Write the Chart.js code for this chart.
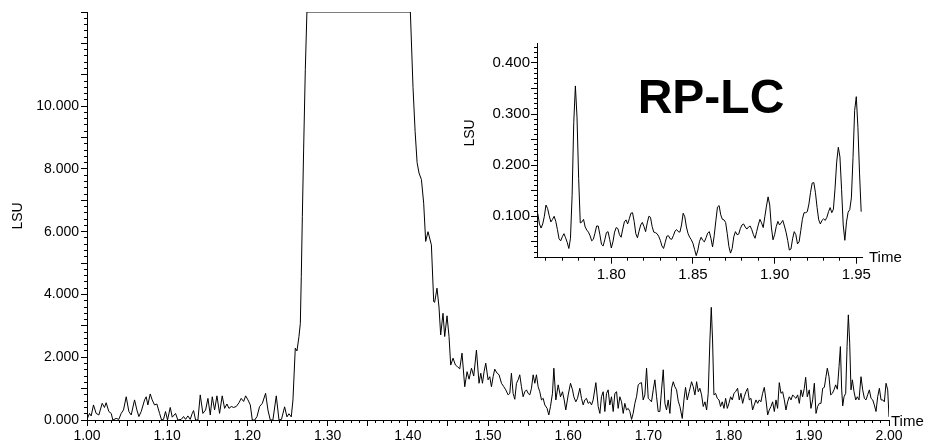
<!DOCTYPE html>
<html><head><meta charset="utf-8">
<script src="https://cdn.jsdelivr.net/npm/chart.js@4.4.1/dist/chart.umd.min.js"></script>
<style>
html,body{margin:0;padding:0;background:#fff;}
#wrap{position:relative;width:927px;height:442px;overflow:hidden;}
#main{position:absolute;left:0;top:0;width:927px;height:442px;}
#inset{position:absolute;left:455px;top:30px;width:472px;height:260px;}
</style></head><body>
<div id="wrap">
<canvas id="main" width="927" height="442"></canvas>
<canvas id="inset" width="472" height="260"></canvas>
</div>
<script>
// ---- main chromatogram (time in min, LSU) ----
const mainTime = [
1.0000,1.0031,1.0052,1.0081,1.0114,1.0148,1.0189,1.0218,1.0239,1.0272,
1.0302,1.0322,1.0364,1.0397,1.0426,1.0455,1.0489,1.0522,1.0551,1.0593,
1.0622,1.0647,1.0676,1.0718,1.0738,1.0759,1.0788,1.0813,1.0842,1.0871,
1.0905,1.0930,1.0954,1.0979,1.1004,1.1038,1.1063,1.1104,1.1133,1.1175,
1.1204,1.1229,1.1258,1.1287,1.1312,1.1329,1.1354,1.1383,1.1412,1.1445,
1.1479,1.1508,1.1537,1.1562,1.1591,1.1620,1.1653,1.1686,1.1716,1.1745,
1.1770,1.1799,1.1828,1.1861,1.1895,1.1923,1.1953,1.1978,1.2007,1.2036,
1.2061,1.2091,1.2120,1.2152,1.2186,1.2227,1.2256,1.2285,1.2318,1.2360,
1.2394,1.2425,1.2464,1.2493,1.2518,1.2547,1.2568,1.2597,1.2618,1.2643,
1.2660,1.2672,1.2685,1.2701,1.2722,1.2742,1.4032,1.4065,1.4091,1.4116,
1.4140,1.4170,1.4198,1.4223,1.4252,1.4294,1.4323,1.4335,1.4364,1.4389,
1.4410,1.4439,1.4460,1.4489,1.4514,1.4535,1.4564,1.4594,1.4619,1.4648,
1.4676,1.4710,1.4739,1.4764,1.4794,1.4822,1.4856,1.4888,1.4910,1.4931,
1.4951,1.4972,1.5001,1.5022,1.5043,1.5064,1.5084,1.5114,1.5138,1.5168,
1.5197,1.5222,1.5251,1.5272,1.5292,1.5313,1.5334,1.5355,1.5376,1.5396,
1.5417,1.5438,1.5459,1.5480,1.5500,1.5521,1.5542,1.5563,1.5584,1.5604,
1.5625,1.5646,1.5667,1.5688,1.5708,1.5737,1.5758,1.5779,1.5804,1.5821,
1.5846,1.5875,1.5904,1.5929,1.5950,1.5970,1.6000,1.6029,1.6054,1.6070,
1.6095,1.6116,1.6145,1.6166,1.6187,1.6207,1.6228,1.6249,1.6270,1.6291,
1.6311,1.6345,1.6374,1.6395,1.6415,1.6436,1.6457,1.6478,1.6498,1.6519,
1.6540,1.6561,1.6582,1.6603,1.6623,1.6644,1.6665,1.6686,1.6706,1.6727,
1.6748,1.6769,1.6790,1.6810,1.6831,1.6852,1.6873,1.6894,1.6914,1.6935,
1.6956,1.6977,1.6998,1.7018,1.7039,1.7060,1.7081,1.7102,1.7122,1.7143,
1.7164,1.7185,1.7206,1.7226,1.7247,1.7268,1.7289,1.7310,1.7330,1.7351,
1.7372,1.7393,1.7422,1.7443,1.7463,1.7484,1.7509,1.7538,1.7559,1.7580,
1.7601,1.7622,1.7642,1.7663,1.7684,1.7705,1.7726,1.7746,1.7767,1.7784,
1.7800,1.7817,1.7838,1.7859,1.7880,1.7900,1.7921,1.7942,1.7963,1.7984,
1.8004,1.8025,1.8046,1.8067,1.8087,1.8112,1.8133,1.8154,1.8175,1.8195,
1.8216,1.8237,1.8258,1.8279,1.8299,1.8320,1.8341,1.8362,1.8383,1.8403,
1.8424,1.8445,1.8466,1.8487,1.8507,1.8528,1.8549,1.8570,1.8591,1.8611,
1.8632,1.8653,1.8674,1.8695,1.8715,1.8736,1.8757,1.8778,1.8799,1.8819,
1.8840,1.8861,1.8882,1.8903,1.8923,1.8944,1.8961,1.8981,1.9006,1.9027,
1.9048,1.9069,1.9090,1.9110,1.9131,1.9152,1.9173,1.9194,1.9214,1.9231,
1.9252,1.9273,1.9294,1.9314,1.9335,1.9356,1.9377,1.9394,1.9410,1.9423,
1.9439,1.9460,1.9477,1.9493,1.9510,1.9526,1.9543,1.9564,1.9585,1.9605,
1.9626,1.9651,1.9672,1.9693,1.9713,1.9734,1.9755,1.9776,1.9797,1.9817,
1.9838,1.9859,1.9880,1.9901,1.9922,1.9942,1.9963,1.9984,2.0000
];
const mainLSU = [
0.02,0.21,0.13,0.48,0.21,0.16,0.53,0.40,0.55,0.27,
0.21,0.00,0.05,0.02,0.21,0.32,0.74,0.27,0.16,0.64,
0.32,0.11,0.27,0.64,0.74,0.48,0.83,0.64,0.48,0.51,
0.21,0.00,0.02,0.27,0.00,0.40,0.09,0.21,0.00,0.02,
0.11,0.02,0.13,0.02,0.21,0.30,0.00,0.00,0.80,0.21,
0.32,0.69,0.16,0.74,0.32,0.77,0.21,0.77,0.37,0.51,
0.37,0.43,0.40,0.43,0.55,0.69,0.59,0.77,0.64,0.48,
0.00,0.00,0.11,0.43,0.53,0.85,0.32,0.00,0.00,0.77,
0.00,0.02,0.42,0.10,0.20,0.10,0.64,2.29,2.20,2.66,
3.08,4.57,6.48,8.60,11.16,13.00,13.00,10.60,9.20,8.20,
7.87,7.66,6.91,5.69,6.00,5.58,3.77,3.75,4.20,3.60,
2.71,3.40,2.66,3.32,2.66,1.75,1.97,1.75,1.70,1.63,
2.13,1.06,1.54,1.30,1.65,1.40,2.23,1.17,1.49,1.17,
1.54,1.81,1.28,1.38,1.06,1.38,1.62,1.49,1.44,1.17,
1.06,0.96,0.80,0.85,1.49,0.85,0.66,1.17,1.28,1.44,
1.06,0.74,0.90,0.96,0.85,0.80,1.01,1.44,1.17,1.44,
1.06,0.90,0.64,0.69,0.48,0.37,0.16,0.43,0.85,1.65,
0.64,1.12,0.74,0.90,0.64,0.32,0.80,1.17,0.96,0.74,
0.58,0.69,1.01,0.69,0.48,0.64,0.69,0.53,0.58,0.48,
0.64,1.19,0.43,0.21,0.74,0.90,0.27,0.85,0.96,0.48,
0.74,0.27,0.85,0.90,0.37,0.74,0.58,0.21,0.53,0.32,
0.37,0.27,0.02,0.21,0.53,0.74,1.12,1.17,1.19,0.64,
0.80,1.65,0.69,0.64,0.58,0.96,1.28,0.74,0.27,0.27,
0.96,1.60,0.53,0.32,0.64,0.21,1.01,1.22,1.06,0.96,
0.60,0.43,0.05,0.64,1.04,0.64,0.90,1.22,1.06,0.80,
1.22,0.90,1.01,0.80,0.43,0.58,0.32,0.85,2.55,3.59,
2.55,0.80,0.85,0.69,0.64,0.43,0.58,0.37,0.69,0.37,
0.53,0.74,0.64,0.85,0.90,1.01,0.64,0.85,0.53,0.74,
0.90,1.01,0.64,0.69,0.32,0.48,0.64,0.53,0.64,0.58,
0.85,1.04,0.64,0.16,0.32,0.43,0.58,0.27,0.64,0.37,
1.19,0.85,0.90,0.64,0.32,0.58,0.74,0.64,0.80,0.74,
0.69,0.80,0.53,0.96,0.74,1.01,1.36,0.74,0.96,0.37,
0.64,1.17,0.21,0.43,0.53,0.53,1.01,1.04,1.38,1.65,
1.38,0.80,0.85,0.96,1.12,0.98,1.70,2.34,0.96,0.45,
0.74,0.85,2.34,3.35,2.45,0.96,1.28,0.90,0.64,0.74,
0.64,1.38,0.96,0.69,0.64,0.80,0.96,0.69,0.64,0.48,
0.27,0.74,1.01,0.64,0.64,0.58,1.17,0.96,0.10
];
const mainXTickLabels = ['1.00','1.10','1.20','1.30','1.40','1.50','1.60','1.70','1.80','1.90','2.00'];
const mainYTickLabels = ['0.000','2.000','4.000','6.000','8.000','10.000'];

// ---- inset (zoomed region 1.755 - 1.953 min, 0.001 min per point) ----
const insetStart = 1.755, insetStep = 0.001;
const insetLSU = [
0.105,0.085,0.077,0.085,0.100,0.122,0.115,0.101,0.089,0.094,
0.100,0.090,0.074,0.056,0.052,0.060,0.066,0.058,0.049,0.037,
0.057,0.141,0.283,0.355,0.294,0.174,0.087,0.089,0.094,0.079,
0.073,0.069,0.062,0.052,0.055,0.067,0.081,0.081,0.064,0.045,
0.042,0.054,0.068,0.070,0.055,0.038,0.050,0.069,0.078,0.076,
0.064,0.059,0.075,0.089,0.093,0.085,0.095,0.106,0.107,0.090,
0.066,0.058,0.071,0.083,0.088,0.080,0.070,0.087,0.100,0.098,
0.080,0.069,0.068,0.066,0.061,0.053,0.042,0.037,0.049,0.061,
0.062,0.056,0.055,0.062,0.071,0.074,0.070,0.069,0.083,0.106,
0.099,0.079,0.066,0.059,0.054,0.047,0.035,0.023,0.034,0.051,
0.059,0.053,0.050,0.058,0.067,0.070,0.057,0.040,0.062,0.091,
0.118,0.121,0.103,0.094,0.093,0.088,0.066,0.041,0.028,0.037,
0.060,0.070,0.064,0.065,0.076,0.083,0.085,0.079,0.075,0.079,
0.081,0.074,0.064,0.057,0.070,0.083,0.094,0.087,0.078,0.099,
0.120,0.138,0.122,0.079,0.054,0.064,0.080,0.090,0.083,0.087,
0.092,0.081,0.069,0.053,0.034,0.036,0.056,0.070,0.064,0.046,
0.050,0.072,0.094,0.107,0.107,0.109,0.124,0.147,0.165,0.166,
0.146,0.117,0.093,0.085,0.092,0.095,0.092,0.098,0.109,0.117,
0.107,0.114,0.155,0.206,0.235,0.216,0.152,0.083,0.053,0.089,
0.108,0.113,0.136,0.215,0.307,0.334,0.274,0.183,0.109
];
const insetTime = insetLSU.map((_, k) => +(insetStart + k * insetStep).toFixed(3));
const insetXTickLabels = ['1.80','1.85','1.90','1.95'];
const insetYTickLabels = ['0.100','0.200','0.300','0.400'];

const FONT = '"Liberation Sans", Arial, Helvetica, sans-serif';
Chart.defaults.font.family = FONT;
Chart.defaults.color = '#000';

function labelFor(list, v, eps) {
  const hit = list.find(l => Math.abs(parseFloat(l) - v) < eps);
  return hit === undefined ? '' : hit;
}
function stepTicks(from, to, step) {
  const out = [];
  for (let k = 0; ; k++) {
    const v = +(from + k * step).toFixed(6);
    if (v > to + 1e-9) break;
    out.push({ value: v });
  }
  return out;
}
function alignPx(p) { return Math.round(p - 0.5) + 0.5; }

const minorTicks = {
  id: 'minorTicks',
  afterDraw(chart, args, opts) {
    const ctx = chart.ctx;
    ctx.save();
    ctx.strokeStyle = '#000';
    ctx.lineWidth = 1;
    ctx.beginPath();
    for (const m of opts.list) {
      const s = chart.scales[m.axis];
      for (let k = 0; ; k++) {
        const v = m.from + k * m.step;
        if (v > s.max + 1e-9) break;
        if (v < s.min - 1e-9) continue;
        const p = alignPx(s.getPixelForValue(v));
        if (s.isHorizontal()) { ctx.moveTo(p, s.top); ctx.lineTo(p, s.top + m.len); }
        else { ctx.moveTo(s.right - m.len, p); ctx.lineTo(s.right, p); }
      }
    }
    ctx.stroke();
    ctx.restore();
  }
};
const texts = {
  id: 'texts',
  afterDraw(chart, args, opts) {
    const ctx = chart.ctx;
    for (const t of opts.items) {
      ctx.save();
      ctx.fillStyle = '#000';
      ctx.font = (t.weight || 'normal') + ' ' + t.size + 'px ' + FONT;
      ctx.textAlign = t.align;
      ctx.textBaseline = t.baseline;
      ctx.translate(t.x, t.y);
      if (t.rotate) ctx.rotate(t.rotate);
      ctx.fillText(t.text, 0, 0);
      ctx.restore();
    }
  }
};

// ---- main chart ----
new Chart(document.getElementById('main'), {
  type: 'line',
  data: { datasets: [{
    data: mainTime.map((t, i) => ({ x: t, y: mainLSU[i] })),
    borderColor: '#000', borderWidth: 1, pointRadius: 0, tension: 0, fill: false
  }] },
  options: {
    responsive: false, animation: false, events: [],
    layout: { padding: { left: 0, right: 38, top: 12, bottom: 0 } },
    plugins: {
      legend: { display: false }, tooltip: { enabled: false },
      minorTicks: { list: [
        { axis: 'x', from: 1.0, step: 0.01, len: 3 },
        { axis: 'y', from: 0, step: 0.2, len: 3 }
      ] },
      texts: { items: [
        { text: 'Time', x: 891, y: 422, size: 15, align: 'left', baseline: 'middle' }
      ] }
    },
    scales: {
      x: {
        type: 'linear', min: 1, max: 2,
        afterBuildTicks: s => { s.ticks = stepTicks(1, 2, 0.05); },
        afterFit: s => { s.height = 22; },
        ticks: { autoSkip: false, maxRotation: 0, minRotation: 0, padding: 2,
                 font: { size: 14 }, color: '#000',
                 callback: v => labelFor(mainXTickLabels, v, 1e-6) },
        grid: { drawOnChartArea: false, tickLength: 6, color: '#000' },
        border: { color: '#000', width: 1 }
      },
      y: {
        type: 'linear', min: 0, max: 13,
        afterBuildTicks: s => { s.ticks = stepTicks(0, 13, 1); },
        afterFit: s => { s.width = 87; },
        ticks: { autoSkip: false, padding: 2, font: { size: 14 }, color: '#000',
                 callback: v => labelFor(mainYTickLabels, v, 1e-6) },
        grid: { drawOnChartArea: false, tickLength: 6, color: '#000' },
        border: { color: '#000', width: 1 },
        title: { display: true, text: 'LSU', color: '#000', font: { size: 14 },
                 padding: { top: 10, bottom: 0 } }
      }
    }
  },
  plugins: [minorTicks, texts]
});

// ---- inset chart ----
new Chart(document.getElementById('inset'), {
  type: 'line',
  data: { datasets: [{
    data: insetTime.map((t, i) => ({ x: t, y: insetLSU[i] })),
    borderColor: '#000', borderWidth: 1, pointRadius: 0, tension: 0, fill: false
  }] },
  options: {
    responsive: false, animation: false, events: [],
    layout: { padding: { left: 0, right: 65, top: 13.5, bottom: 0 } },
    plugins: {
      legend: { display: false }, tooltip: { enabled: false },
      minorTicks: { list: [
        { axis: 'x', from: 1.76, step: 0.01, len: 3 },
        { axis: 'y', from: 0.02, step: 0.01, len: 3 }
      ] },
      texts: { items: [
        { text: 'Time', x: 414, y: 228, size: 15, align: 'left', baseline: 'middle' },
        { text: 'RP-LC', x: 256, y: 83, size: 48, weight: 'bold', align: 'center', baseline: 'alphabetic' },
        { text: 'LSU', x: 15, y: 103, size: 14, align: 'center', baseline: 'middle', rotate: -Math.PI / 2 }
      ] }
    },
    scales: {
      x: {
        type: 'linear', min: 1.7545, max: 1.9535,
        afterBuildTicks: s => { s.ticks = insetXTickLabels.map(l => ({ value: parseFloat(l) })); },
        afterFit: s => { s.height = 32.3; },
        ticks: { autoSkip: false, maxRotation: 0, minRotation: 0, padding: 2,
                 font: { size: 15 }, color: '#000',
                 callback: v => labelFor(insetXTickLabels, v, 1e-6) },
        grid: { drawOnChartArea: false, tickLength: 6, color: '#000' },
        border: { color: '#000', width: 1 }
      },
      y: {
        type: 'linear', min: 0.019, max: 0.438,
        afterBuildTicks: s => { s.ticks = stepTicks(0.05, 0.4, 0.05); },
        afterFit: s => { s.width = 82; },
        ticks: { autoSkip: false, padding: 1, font: { size: 15 }, color: '#000',
                 callback: v => labelFor(insetYTickLabels, v, 1e-6) },
        grid: { drawOnChartArea: false, tickLength: 6, color: '#000' },
        border: { color: '#000', width: 1 }
      }
    }
  },
  plugins: [minorTicks, texts]
});
</script>
</body></html>
